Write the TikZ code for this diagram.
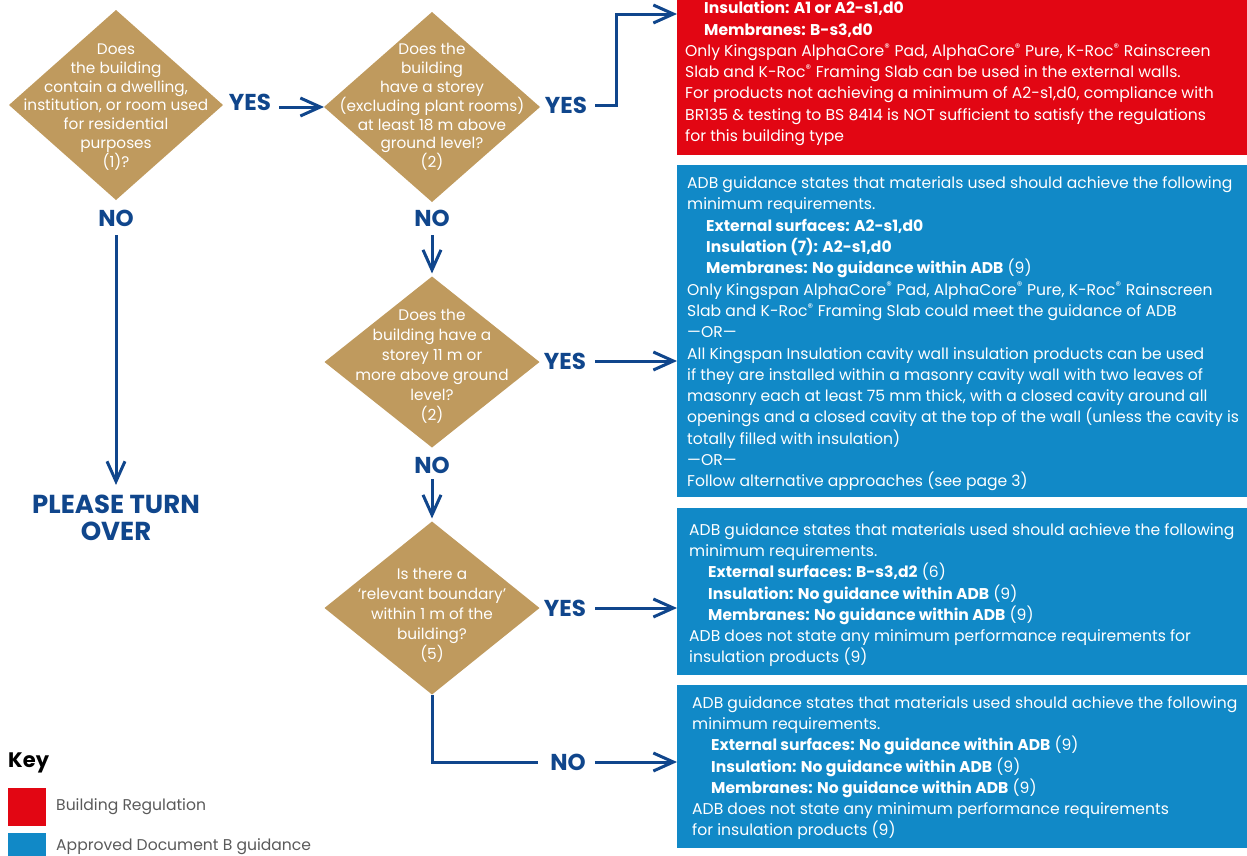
\documentclass[tikz,border=0pt]{standalone}
\usepackage{fontspec}
\setmainfont{Poppins}
\usetikzlibrary{arrows.meta,shapes.geometric,positioning}

\definecolor{kgold}{RGB}{191,154,94}
\definecolor{knavy}{RGB}{16,70,140}
\definecolor{kred}{RGB}{226,6,19}
\definecolor{kblue}{RGB}{17,137,199}
\definecolor{kgrey}{RGB}{90,90,90}
\newcommand{\kreg}{\textsuperscript{\textregistered}}

\begin{document}
\begin{tikzpicture}
		[
		x=1pt,y=-1pt,
		>={Straight Barb[length=20pt,width=18pt]}
		]
		
		% Styles: questions, answer boxes and flow lines
		\tikzstyle{question node}=[diamond,fill=kgold,inner sep=0,outer sep=0];
		\tikzstyle{question text}=[text=white,align=center,inner sep=0,font=\fontsize{15.3}{18.8}\selectfont];
		\tikzstyle{answer box}=[rectangle,anchor=north west,inner sep=0,outer sep=0,minimum width=570pt];
		\tikzstyle{answer text}=[text=white,align=left,anchor=north west,inner sep=0,font=\fontsize{15.6}{21.3}\selectfont];
		\tikzstyle{answer label}=[text=knavy,inner sep=0,font=\fontsize{23}{23}\bfseries\selectfont];
		\tikzstyle{flow line}=[draw=knavy,line width=3pt];
		\tikzstyle{flow arrow}=[flow line,->];
		
		\useasboundingbox (0,0) rectangle (1247,855);
		
		% Questions
		\node(q1)[question node,minimum width=214pt,minimum height=190pt]at(116,105){};
		\node(q1text)[question text]at(116,107){Does\\the building\\contain a dwelling,\\institution, or room used\\for residential\\purposes\\(1)?};
		\node(q2)[question node,minimum width=216pt,minimum height=190pt]at(432,107){};
		\node(q2text)[question text]at(432,107){Does the\\building\\have a storey\\(excluding plant rooms)\\at least 18 m above\\ground level?\\(2)};
		\node(q3)[question node,minimum width=215pt,minimum height=171pt]at(432,362){};
		\node(q3text)[question text,font=\fontsize{15.3}{20}\selectfont]at(432,366){Does the\\building have a\\storey 11 m or\\more above ground\\level?\\(2)};
		\node(q4)[question node,minimum width=215pt,minimum height=173pt]at(432,608){};
		\node(q4text)[question text,font=\fontsize{15.3}{20}\selectfont]at(432,615){Is there a\\`relevant boundary'\\within 1 m of the\\building?\\(5)};
		
		% Answers
		\node(reg)[answer box,fill=kred,minimum height=155pt]at(677,0){};
		\node(adb11)[answer box,fill=kblue,minimum height=332pt]at(677,165){};
		\node(adb5)[answer box,fill=kblue,minimum height=167pt]at(677,508){};
		\node(adbno)[answer box,fill=kblue,minimum height=163pt]at(677,685){};
		
		\node(regtext)[answer text]at(685,1){\hspace*{19pt}\textbf{Insulation: A1 or A2-s1,d0}\\
			\hspace*{19pt}\textbf{Membranes: B-s3,d0}\\
			Only Kingspan AlphaCore\kreg{} Pad, AlphaCore\kreg{} Pure, K-Roc\kreg{} Rainscreen\\
			Slab and K-Roc\kreg{} Framing Slab can be used in the external walls.\\
			For products not achieving a minimum of A2-s1,d0, compliance with\\
			BR135 \& testing to BS 8414 is NOT sufficient to satisfy the regulations\\
			for this building type};
		\node(adb11text)[answer text]at(687,176.5){ADB guidance states that materials used should achieve the following\\
			minimum requirements.\\
			\hspace*{19pt}\textbf{External surfaces: A2-s1,d0}\\
			\hspace*{19pt}\textbf{Insulation (7): A2-s1,d0}\\
			\hspace*{19pt}\textbf{Membranes: No guidance within ADB} (9)\\
			Only Kingspan AlphaCore\kreg{} Pad, AlphaCore\kreg{} Pure, K-Roc\kreg{} Rainscreen\\
			Slab and K-Roc\kreg{} Framing Slab could meet the guidance of ADB\\
			---OR---\\
			All Kingspan Insulation cavity wall insulation products can be used\\
			if they are installed within a masonry cavity wall with two leaves of\\
			masonry each at least 75 mm thick, with a closed cavity around all\\
			openings and a closed cavity at the top of the wall (unless the cavity is\\
			totally filled with insulation)\\
			---OR---\\
			Follow alternative approaches (see page 3)};
		\node(adb5text)[answer text]at(689,523){ADB guidance states that materials used should achieve the following\\
			minimum requirements.\\
			\hspace*{19pt}\textbf{External surfaces: B-s3,d2} (6)\\
			\hspace*{19pt}\textbf{Insulation: No guidance within ADB} (9)\\
			\hspace*{19pt}\textbf{Membranes: No guidance within ADB} (9)\\
			ADB does not state any minimum performance requirements for\\
			insulation products (9)};
		\node(adbnotext)[answer text]at(692,696){ADB guidance states that materials used should achieve the following\\
			minimum requirements.\\
			\hspace*{19pt}\textbf{External surfaces: No guidance within ADB} (9)\\
			\hspace*{19pt}\textbf{Insulation: No guidance within ADB} (9)\\
			\hspace*{19pt}\textbf{Membranes: No guidance within ADB} (9)\\
			ADB does not state any minimum performance requirements\\
			for insulation products (9)};
		
		% Yes / No labels
		\node(yes1)[answer label]at(250,102){YES};
		\node(yes2)[answer label]at(566,105){YES};
		\node(yes3)[answer label]at(565,361){YES};
		\node(yes4)[answer label]at(565,608){YES};
		\node(no1)[answer label]at(116,218){NO};
		\node(no2)[answer label]at(432,218){NO};
		\node(no3)[answer label]at(432,465){NO};
		\node(no4)[answer label]at(568,762){NO};
		\node(turn)[answer label,align=center,font=\fontsize{26}{27}\bfseries\selectfont]at(116,518){PLEASE TURN\\OVER};
		\coordinate(regin)at(677,14);
		
		% Flow lines
		\draw[flow arrow,shorten <=8pt](yes1.east|-q2.west)--(q2.west);
		\draw[flow arrow,shorten <=8pt](yes2.east)--++(29,0)|-(regin);
		\draw[flow arrow,shorten <=9pt,shorten >=10pt](no1.south)--(turn.north);
		\draw[flow arrow,shorten <=9pt,shorten >=3pt](no2.south)--(q3.north);
		\draw[flow arrow,shorten <=9pt](yes3.east)--(yes3-|adb11.west);
		\draw[flow arrow,shorten <=6pt,shorten >=3pt](no3.south)--(q4.north);
		\draw[flow arrow,shorten <=9pt](yes4.east)--(yes4-|adb5.west);
		\draw[flow line,shorten >=12pt](q4.south)|-(no4.west);
		\draw[flow arrow,shorten <=9pt](no4.east)--(no4-|adbno.west);
		
		% Key
		\node(keytitle)[anchor=west,inner sep=0,font=\fontsize{21}{21}\bfseries\selectfont]at(8,763){Key};
		\node(keyreg)[anchor=north west,fill=kred,inner sep=0,minimum width=38pt,minimum height=38pt]at(8,788){};
		\node(keyadb)[anchor=north west,fill=kblue,inner sep=0,minimum width=38pt,minimum height=38pt]at(8,833){};
		\node(keyregtext)[anchor=west,inner sep=0,text=kgrey,font=\fontsize{15.6}{17}\selectfont]at(56,807){Building Regulation};
		\node(keyadbtext)[anchor=west,inner sep=0,text=kgrey,font=\fontsize{15.6}{17}\selectfont]at(56,847){Approved Document B guidance};
\end{tikzpicture}
\end{document}
